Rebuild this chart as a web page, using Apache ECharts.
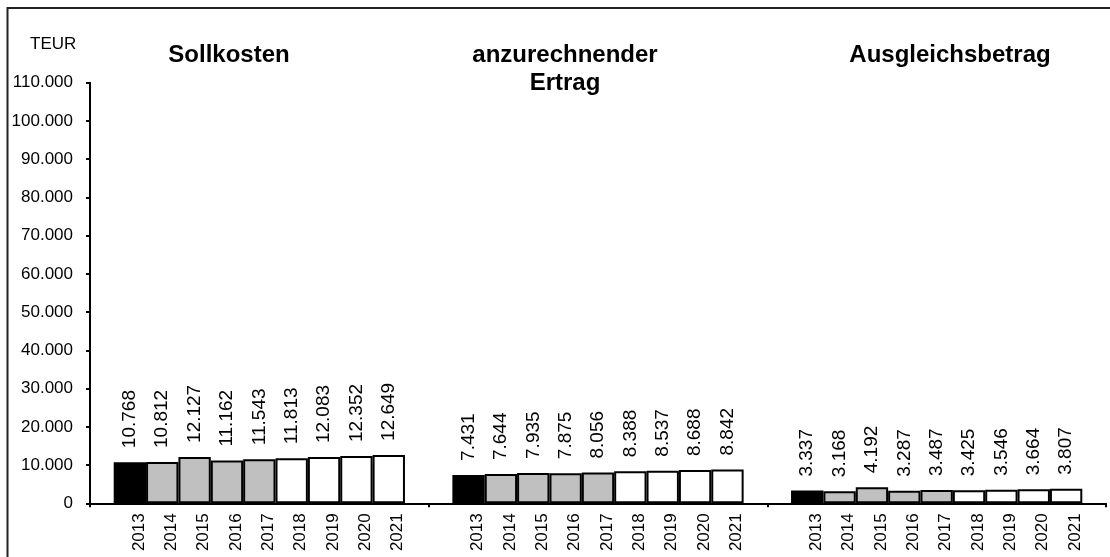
<!DOCTYPE html>
<html>
<head>
<meta charset="utf-8">
<script src="https://cdn.jsdelivr.net/npm/echarts@6/dist/echarts.min.js"></script>
<style>
html, body { margin: 0; padding: 0; background: #fff; }
#chart { width: 1110px; height: 557px; }
</style>
</head>
<body>
<div id="chart"></div>
<script>
var years = ['2013', '2014', '2015', '2016', '2017', '2018', '2019', '2020', '2021'];
var groups = ['Sollkosten', 'anzurechnender\nErtrag', 'Ausgleichsbetrag'];
var sollkosten = [10768, 10812, 12127, 11162, 11543, 11813, 12083, 12352, 12649];
var ertrag = [7431, 7644, 7935, 7875, 8056, 8388, 8537, 8688, 8842];
var ausgleich = [3337, 3168, 4192, 3287, 3487, 3425, 3546, 3664, 3807];
var yearColors = ['#000000', '#c0c0c0', '#c0c0c0', '#c0c0c0', '#c0c0c0', '#ffffff', '#ffffff', '#ffffff', '#ffffff'];

var FONT = "'Liberation Sans', Arial, sans-serif";

// 10768 -> 10.768
function fmt(v) {
	return String(v).replace(/\B(?=(\d{3})+(?!\d))/g, '.');
}

function initChart() {
	var myChart = echarts.init(document.getElementById('chart'));
	var series = [];
	for (var i = 0; i < years.length; i++) {
		// unsichtbare Null-Balken, nur fuer die Jahreszahlen unter der Achse
		series.push({
			type: 'bar',
			name: years[i],
			stack: 'y' + i,
			silent: true,
			data: [0, 0, 0],
			itemStyle: { color: 'rgba(0,0,0,0)', borderWidth: 0 },
			label: {
				show: true,
				position: 'bottom',
				distance: 10,
				rotate: 90,
				align: 'right',
				verticalAlign: 'middle',
				offset: [0, 9],
				formatter: '{a}',
				fontFamily: FONT,
				fontSize: 17,
				color: '#000'
			}
		});
		series.push({
			type: 'bar',
			name: years[i],
			stack: 'y' + i,
			data: [sollkosten[i], ertrag[i], ausgleich[i]],
			itemStyle: { color: yearColors[i], borderColor: '#000', borderWidth: 2 },
			label: {
				show: true,
				position: 'top',
				distance: 14,
				rotate: 90,
				align: 'left',
				verticalAlign: 'middle',
				formatter: function (p) { return fmt(p.value); },
				fontFamily: FONT,
				fontSize: 19,
				color: '#000'
			}
		});
	}

	var titleFont = 'bold 24px ' + FONT;
	var option = {
		animation: false,
		backgroundColor: '#fff',
		grid: { left: 90, right: 4, top: 82.7, bottom: 53.7, containLabel: false },
		xAxis: {
			type: 'category',
			data: groups,
			axisLine: { lineStyle: { color: '#000', width: 2 } },
			axisTick: { show: true, length: 4, lineStyle: { color: '#000', width: 2 } },
			axisLabel: { show: false },
			splitLine: { show: false }
		},
		yAxis: {
			type: 'value',
			min: 0,
			max: 110000,
			interval: 10000,
			axisLine: { show: true, lineStyle: { color: '#000', width: 2 } },
			axisTick: { show: true, length: 4, lineStyle: { color: '#000', width: 2 } },
			axisLabel: {
				margin: 17,
				fontFamily: FONT,
				fontSize: 17,
				color: '#000',
				formatter: function (v) { return fmt(v); }
			},
			splitLine: { show: false }
		},
		series: series,
		graphic: [
			{
				type: 'rect',
				silent: true,
				shape: { x: 7.5, y: 8, width: 1200, height: 700 },
				style: { fill: 'none', stroke: '#222', lineWidth: 2 }
			},
			{
				type: 'text', x: 30, y: 44,
				style: { text: 'TEUR', font: '17px ' + FONT, fill: '#000', textAlign: 'left', textVerticalAlign: 'middle' }
			},
			{
				type: 'text', x: 229, y: 55,
				style: { text: groups[0], font: titleFont, fill: '#000', textAlign: 'center', textVerticalAlign: 'middle' }
			},
			{
				type: 'text', x: 565, y: 55,
				style: { text: groups[1].split('\n')[0], font: titleFont, fill: '#000', textAlign: 'center', textVerticalAlign: 'middle' }
			},
			{
				type: 'text', x: 565, y: 83,
				style: { text: groups[1].split('\n')[1], font: titleFont, fill: '#000', textAlign: 'center', textVerticalAlign: 'middle' }
			},
			{
				type: 'text', x: 950, y: 55,
				style: { text: groups[2], font: titleFont, fill: '#000', textAlign: 'center', textVerticalAlign: 'middle' }
			}
		]
	};
	for (var k = 0; k < series.length; k++) {
		series[k].barGap = '0%';
		series[k].barCategoryGap = '14%';
	}
	myChart.setOption(option);
}
initChart();
</script>
</body>
</html>
